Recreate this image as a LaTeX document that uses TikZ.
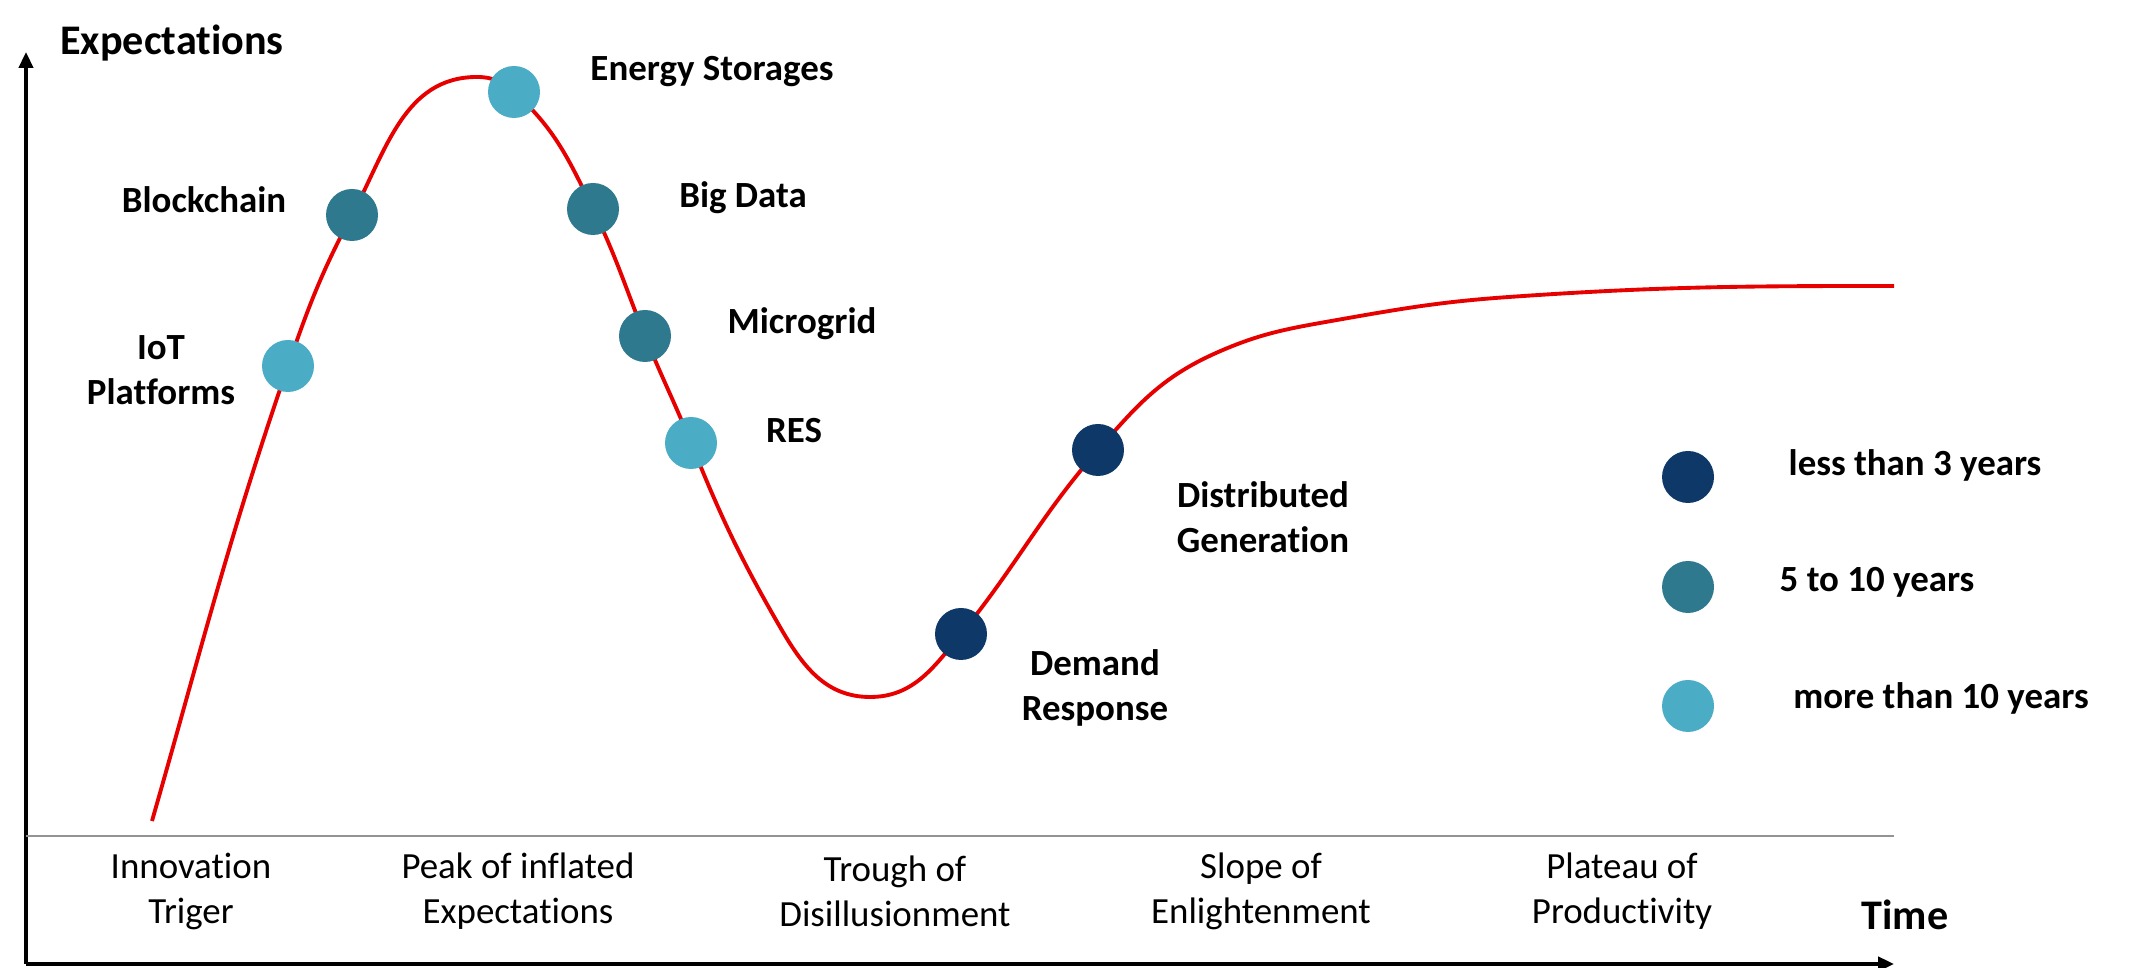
\documentclass[tikz,border=0pt]{standalone}
\usepackage{fontspec}
\setmainfont{Carlito}[Ligatures={NoCommon,NoContextual}]
\usetikzlibrary{arrows.meta}

\definecolor{navyblue}{HTML}{0D3868}
\definecolor{tealblue}{HTML}{2E798D}
\definecolor{skyblue}{HTML}{4BACC6}
\definecolor{hypered}{HTML}{E60000}

\tikzset{
    dot/.style={circle, minimum size=0.52cm, inner sep=0pt},
    shortterm/.style={dot, fill=navyblue},
    midterm/.style={dot, fill=tealblue},
    longterm/.style={dot, fill=skyblue},
    lbl/.style={font=\fontsize{10.5}{12.8}\selectfont\bfseries, align=center},
    phase/.style={font=\fontsize{10.5}{12.8}\selectfont, align=center},
    axtitle/.style={font=\fontsize{12}{14}\selectfont\bfseries},
    axis/.style={line width=1pt, -{Triangle[width=4pt,length=4.5pt]}},
}

\begin{document}
\begin{tikzpicture}
    \useasboundingbox (0,0) rectangle (21.37,9.68);
    % \draw[help lines,step=1] (0,0) grid (21,9);

    % axes
    \coordinate (o) at (0.26,0.04);
    \coordinate (ytop) at (0.26,9.16);
    \coordinate (xend) at (18.94,0.04);
    \draw[axis] (o) -- (ytop);
    \draw[axis] (o) -- (xend);
    \coordinate (gl) at (0.26,1.32);
    \coordinate (gr) at (18.94,1.32);
    \draw[gray!85, line width=0.75pt] (gl) -- (gr);
    \node[axtitle] (ylab) at (1.72,9.25) {Expectations};
    \node[axtitle] (xlab) at (19.05,0.53) {Time};

    % points on the curve
    \coordinate (start) at (1.52,1.47);
    \coordinate (p_iot) at (2.88,6.02);
    \coordinate (p_bc) at (3.52,7.53);
    \coordinate (peak) at (4.77,8.91);
    \coordinate (p_es) at (5.14,8.76);
    \coordinate (p_bd) at (5.93,7.59);
    \coordinate (p_mg) at (6.45,6.32);
    \coordinate (p_res) at (6.91,5.25);
    \coordinate (down) at (7.80,3.41);
    \coordinate (trough) at (8.70,2.71);
    \coordinate (p_dr) at (9.61,3.34);
    \coordinate (p_dg) at (10.98,5.18);
    \coordinate (bend) at (12.16,6.15);
    \coordinate (flat1) at (13.37,6.48);
    \coordinate (flat2) at (15.09,6.71);
    \coordinate (stop) at (18.94,6.82);

    \draw[hypered, line width=1.1pt] (start)
        to[out=74,in=251] (p_iot)
        to[out=71,in=242] (p_bc)
        to[out=62,in=180] (peak)
        to[out=0,in=138] (p_es)
        to[out=-42,in=116] (p_bd)
        to[out=-64,in=112] (p_mg)
        to[out=-68,in=112] (p_res)
        to[out=-68,in=120] (down)
        to[out=-60,in=180] (trough)
        to[out=0,in=231] (p_dr)
        to[out=51,in=229] (p_dg)
        to[out=49,in=204] (bend)
        to[out=24,in=190] (flat1)
        to[out=10,in=184] (flat2)
        to[out=4,in=180] (stop);

    % technologies
    \node[longterm] (iot) at (p_iot) {};
    \node[midterm] (bc) at (p_bc) {};
    \node[longterm] (es) at (p_es) {};
    \node[midterm] (bd) at (p_bd) {};
    \node[midterm] (mg) at (p_mg) {};
    \node[longterm] (res) at (p_res) {};
    \node[shortterm] (dr) at (p_dr) {};
    \node[shortterm] (dg) at (p_dg) {};

    \node[lbl] (iotl) at (1.61,5.98) {IoT\\Platforms};
    \node[lbl] (bcl) at (2.04,7.68) {Blockchain};
    \node[lbl] (esl) at (7.12,8.96) {Energy Storages};
    \node[lbl] (bdl) at (7.43,7.70) {Big Data};
    \node[lbl] (mgl) at (8.02,6.44) {Microgrid};
    \node[lbl] (resl) at (7.94,5.37) {RES};
    \node[lbl] (drl) at (10.95,2.80) {Demand\\Response};
    \node[lbl] (dgl) at (12.63,4.51) {Distributed\\Generation};

    % legend
    \node[shortterm] (leg1) at (16.88,4.91) {};
    \node[midterm] (leg2) at (16.88,3.81) {};
    \node[longterm] (leg3) at (16.88,2.62) {};
    \node[lbl] (leg1l) at (19.15,5.03) {less than 3 years};
    \node[lbl] (leg2l) at (18.77,3.86) {5 to 10 years};
    \node[lbl] (leg3l) at (19.41,2.70) {more than 10 years};

    % phases
    \node[phase] (ph1) at (1.91,0.77) {Innovation\\Triger};
    \node[phase] (ph2) at (5.18,0.77) {Peak of inflated\\Expectations};
    \node[phase] (ph3) at (8.95,0.77) {Trough of\\Disillusionment};
    \node[phase] (ph4) at (12.61,0.77) {Slope of\\Enlightenment};
    \node[phase] (ph5) at (16.22,0.77) {Plateau of\\Productivity};
\end{tikzpicture}
\end{document}
